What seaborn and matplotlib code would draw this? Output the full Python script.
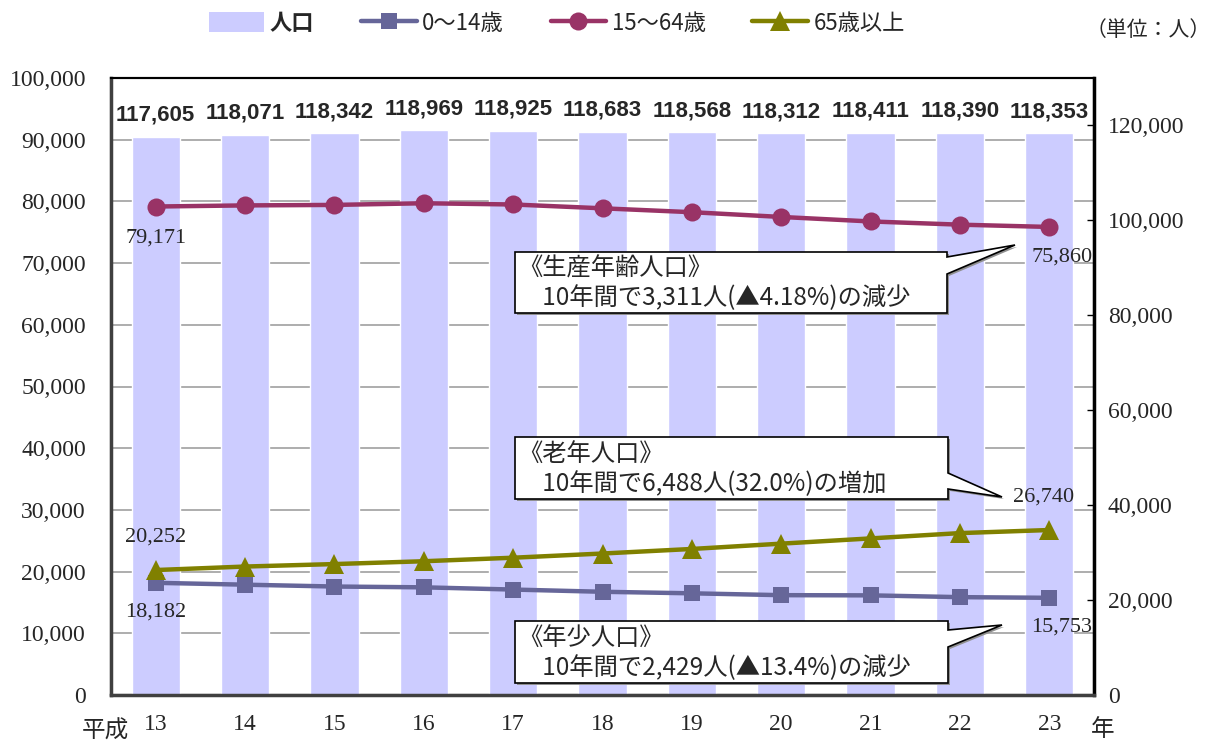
import numpy as np
import pandas as pd
import matplotlib
matplotlib.use("Agg")
import matplotlib.pyplot as plt
from matplotlib.lines import Line2D
from matplotlib.patches import Patch, Polygon
import seaborn as sns

# ---- data (Heisei years 13-23) ----
years = ["13", "14", "15", "16", "17", "18", "19", "20", "21", "22", "23"]
total = [117605, 118071, 118342, 118969, 118925, 118683, 118568, 118312, 118411, 118390, 118353]
age_0_14 = [18182, 17880, 17580, 17450, 17090, 16730, 16480, 16180, 16150, 15860, 15753]
age_15_64 = [79171, 79350, 79430, 79700, 79500, 78880, 78250, 77480, 76750, 76230, 75860]
age_65_up = [20252, 20820, 21220, 21680, 22250, 22930, 23670, 24530, 25380, 26240, 26740]

series_names = ["人口", "0〜14歳", "15〜64歳", "65歳以上"]
callout_texts = [
    "《生産年齢人口》\n　10年間で3,311人(▲4.18%)の減少",
    "《老年人口》\n　10年間で6,488人(32.0%)の増加",
    "《年少人口》\n　10年間で2,429人(▲13.4%)の減少",
]

BAR_COLOR = "#CCCCFF"
C_YOUNG = "#666699"
C_WORK = "#993366"
C_OLD = "#808000"

sns.set_theme(style="white")
JP = ["Noto Sans CJK JP", "DejaVu Sans"]
SERIF = ["Liberation Serif", "Noto Sans CJK JP"]
plt.rcParams["font.family"] = JP

W, H = 1214, 743
fig = plt.figure(figsize=(W / 100, H / 100), dpi=100, facecolor="white")


def px(x, y):
    """pixel position (top-left origin) -> figure fraction"""
    return (x / W, 1 - y / H)


ax = fig.add_axes([111 / W, 1 - 695 / H, (1094 - 111) / W, (695 - 78) / H])
ax2 = ax.twinx()

df = pd.DataFrame({"year": years, "total": total})
idx = np.arange(len(years))

# bars on the right-hand scale
sns.barplot(data=df, x="year", y="total", ax=ax2, color=BAR_COLOR,
            saturation=1, width=0.54)
for p in ax2.patches:
    p.set_zorder(3)
ax2.set_ylim(0, 130000)
ax2.set_yticks(np.arange(0, 120001, 20000))
ax2.set_yticklabels([f"{v:,}" for v in range(0, 120001, 20000)],
                    fontfamily=SERIF, fontsize=17)
ax2.tick_params(axis="y", direction="in", length=5, width=1, color="black", pad=10)
ax2.set_ylabel("")

# horizontal grid following the left-hand scale, beneath the bars
left_ticks = np.arange(0, 100001, 10000)
for t in left_ticks[1:-1]:
    ax2.axhline(t * 1.3, color="#A0A0A0", lw=1.2, zorder=1)

for i, v in enumerate(total):
    ax2.annotate(f"{v:,}", (i, v), xytext=(0, 8), textcoords="offset points",
                 ha="center", va="bottom", fontsize=16, fontweight="bold",
                 fontfamily=["Liberation Sans", "DejaVu Sans"])

# age-group lines on the left-hand scale
sns.lineplot(x=idx, y=age_0_14, ax=ax, color=C_YOUNG, marker="s", markersize=11,
             linewidth=3.2, markeredgewidth=0, legend=False)
sns.lineplot(x=idx, y=age_15_64, ax=ax, color=C_WORK, marker="o", markersize=13,
             linewidth=3.2, markeredgewidth=0, legend=False)
sns.lineplot(x=idx, y=age_65_up, ax=ax, color=C_OLD, marker="^", markersize=14,
             linewidth=3.2, markeredgewidth=0, legend=False)

ax.set_zorder(ax2.get_zorder() + 1)
ax.patch.set_visible(False)

ax.set_ylim(0, 100000)
ax.set_yticks(left_ticks)
ax.set_yticklabels([f"{v:,}" for v in left_ticks], fontfamily=SERIF, fontsize=17)
ax.tick_params(axis="y", length=0, pad=18)
ax.set_xlim(-0.5, len(years) - 0.5)
ax.set_xticks(idx)
ax.set_xticklabels(years, fontfamily=SERIF, fontsize=17)
ax.set_xticks(np.arange(-0.5, len(years), 1.0), minor=True)
ax.tick_params(axis="x", which="major", length=0, pad=14)
ax.tick_params(axis="x", which="minor", direction="in", length=5, color="#808080")
ax.set_xlabel("")
ax.set_ylabel("")

for a in (ax, ax2):
    for s in a.spines.values():
        s.set_visible(True)
        s.set_color("black")
        s.set_linewidth(1.5)
ax.spines["left"].set_color("#404040")
ax.spines["left"].set_linewidth(2.5)
ax.spines["bottom"].set_color("#404040")
ax.spines["bottom"].set_linewidth(2.5)
ax.spines["right"].set_linewidth(2.5)

# end-point value labels
lab_kw = dict(textcoords="offset points", ha="center", va="center",
              fontsize=16, fontfamily=SERIF)
ax.annotate(f"{age_15_64[0]:,}", (0, age_15_64[0]), xytext=(0, -23), **lab_kw)
ax.annotate(f"{age_15_64[-1]:,}", (idx[-1], age_15_64[-1]), xytext=(9, -22), **lab_kw)
ax.annotate(f"{age_65_up[0]:,}", (0, age_65_up[0]), xytext=(0, 24), **lab_kw)
ax.annotate(f"{age_65_up[-1]:,}", (idx[-1], age_65_up[-1]), xytext=(-4, 24), **lab_kw)
ax.annotate(f"{age_0_14[0]:,}", (0, age_0_14[0]), xytext=(0, -21), **lab_kw)
ax.annotate(f"{age_0_14[-1]:,}", (idx[-1], age_0_14[-1]), xytext=(9, -21), **lab_kw)

# speech-bubble callouts
callouts = [
    # box x0, x1, y0, y1, wedge base ya, yb, tip x, tip y
    (515, 947, 252, 313, 257, 274, 1015, 245),
    (515, 948, 437, 499, 473, 489, 1002, 497),
    (515, 948, 621, 683, 630, 647, 1002, 625),
]
for (x0, x1, y0, y1, ya, yb, tx, ty), txt in zip(callouts, callout_texts):
    pts = [px(x0, y0), px(x1, y0), px(x1, ya), px(tx, ty), px(x1, yb),
           px(x1, y1), px(x0, y1)]
    shadow = [(p[0] + 2 / W, p[1] - 2 / H) for p in pts]
    fig.patches.append(Polygon(shadow, closed=True, transform=fig.transFigure,
                               facecolor="#909090", edgecolor="none", zorder=5))
    fig.patches.append(Polygon(pts, closed=True, transform=fig.transFigure,
                               facecolor="white", edgecolor="black", lw=1.2,
                               zorder=6))
    fig.text(*px(x0 + 3, (y0 + y1) / 2 + 1), txt, ha="left", va="center",
             fontsize=17.5, linespacing=1.2, zorder=7, family=JP)

# legend
handles = [
    Patch(facecolor=BAR_COLOR, edgecolor="none"),
    Line2D([], [], color=C_YOUNG, lw=3.2, marker="s", markersize=11, markeredgewidth=0),
    Line2D([], [], color=C_WORK, lw=3.2, marker="o", markersize=13, markeredgewidth=0),
    Line2D([], [], color=C_OLD, lw=3.2, marker="^", markersize=14, markeredgewidth=0),
]
leg = fig.legend(handles, series_names, loc="center left",
                 bbox_to_anchor=px(200, 23), ncol=4, frameon=False,
                 fontsize=16, handlelength=2.5, handleheight=1.0,
                 handletextpad=0.25, columnspacing=2.1, borderaxespad=0)
for i, t in enumerate(leg.get_texts()):
    if i == 0:
        t.set_fontweight("bold")

fig.text(*px(1148, 30), "（単位：人）", ha="center", va="center", fontsize=15, family=JP)
fig.text(*px(105, 731), "平成", ha="center", va="center", fontsize=17, family=JP)
fig.text(*px(1103, 729), "年", ha="center", va="center", fontsize=17, family=JP)

fig.savefig("out.png", dpi=100, facecolor="white")
